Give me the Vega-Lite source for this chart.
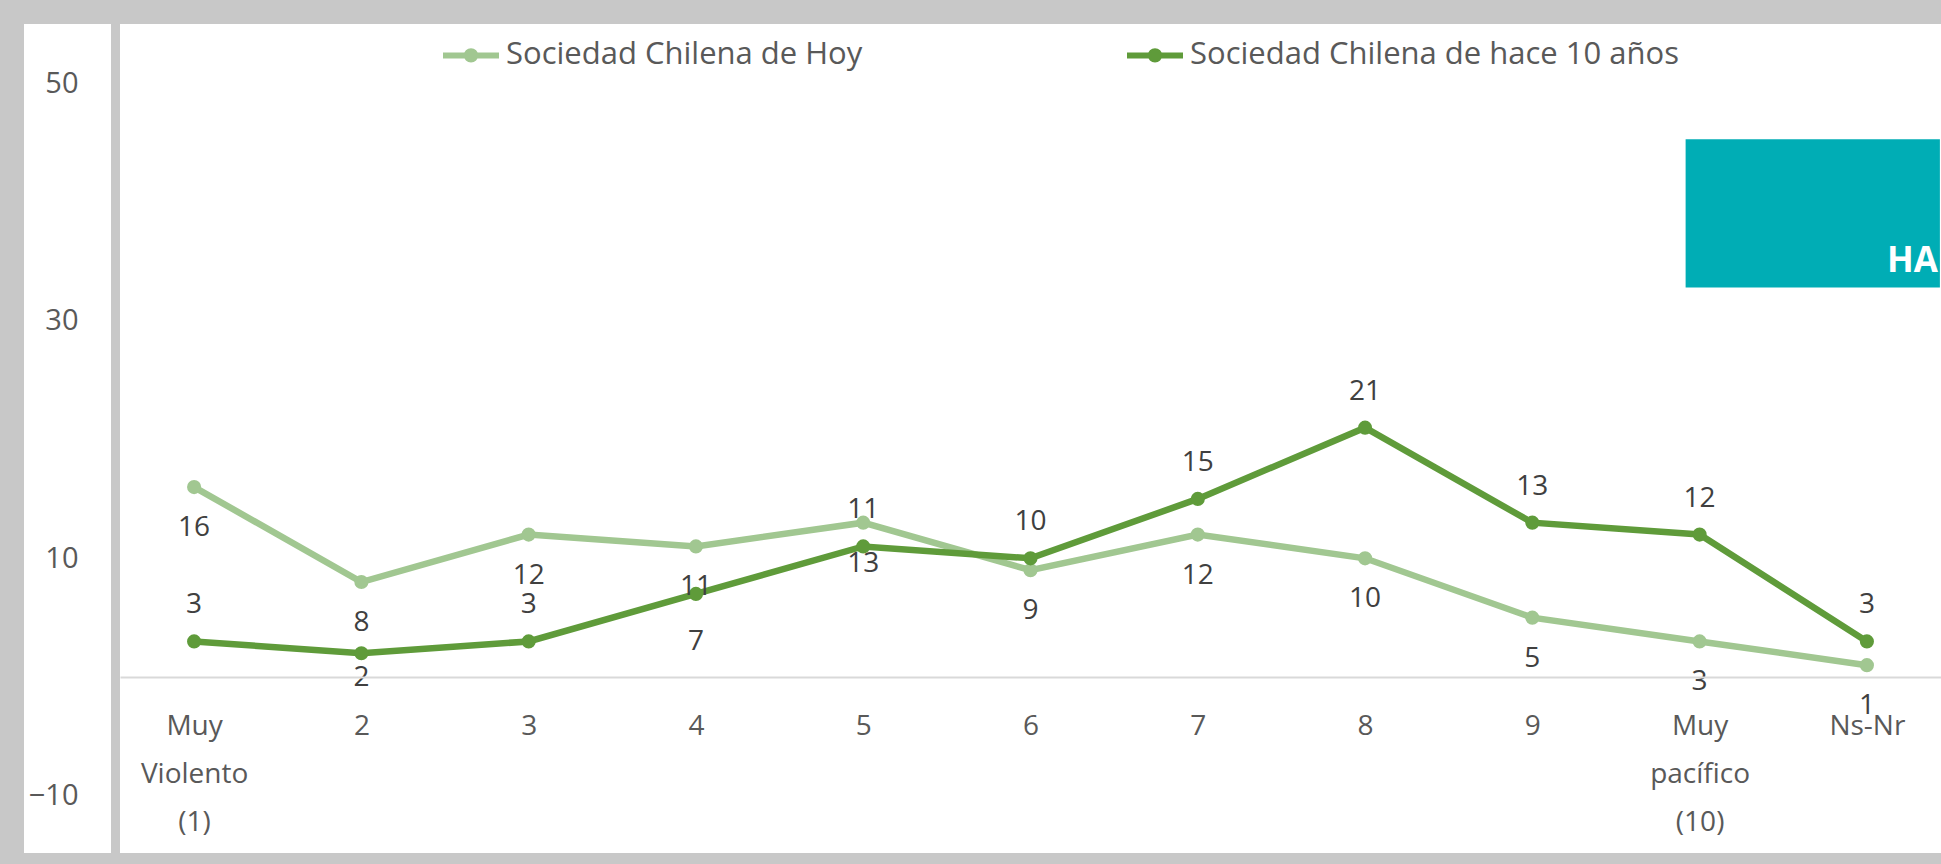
{
  "$schema": "https://vega.github.io/schema/vega-lite/v6.json",
  "autosize": {"type": "pad"},
  "background": "#C8C8C8",
  "padding": {"left": 24, "top": 24, "right": 0, "bottom": 11},
  "config": {
    "view": {"fill": "white", "stroke": null},
    "font": "Open Sans",
    "concat": {"spacing": 9}
  },
  "datasets": {
    "d": [
      {"cat": "Muy Violento (1)", "serie": "Sociedad Chilena de Hoy", "valor": 16},
      {"cat": "2", "serie": "Sociedad Chilena de Hoy", "valor": 8},
      {"cat": "3", "serie": "Sociedad Chilena de Hoy", "valor": 12},
      {"cat": "4", "serie": "Sociedad Chilena de Hoy", "valor": 11},
      {"cat": "5", "serie": "Sociedad Chilena de Hoy", "valor": 13},
      {"cat": "6", "serie": "Sociedad Chilena de Hoy", "valor": 9},
      {"cat": "7", "serie": "Sociedad Chilena de Hoy", "valor": 12},
      {"cat": "8", "serie": "Sociedad Chilena de Hoy", "valor": 10},
      {"cat": "9", "serie": "Sociedad Chilena de Hoy", "valor": 5},
      {"cat": "Muy pacífico (10)", "serie": "Sociedad Chilena de Hoy", "valor": 3},
      {"cat": "Ns-Nr", "serie": "Sociedad Chilena de Hoy", "valor": 1},
      {"cat": "Muy Violento (1)", "serie": "Sociedad Chilena de hace 10 años", "valor": 3},
      {"cat": "2", "serie": "Sociedad Chilena de hace 10 años", "valor": 2},
      {"cat": "3", "serie": "Sociedad Chilena de hace 10 años", "valor": 3},
      {"cat": "4", "serie": "Sociedad Chilena de hace 10 años", "valor": 7},
      {"cat": "5", "serie": "Sociedad Chilena de hace 10 años", "valor": 11},
      {"cat": "6", "serie": "Sociedad Chilena de hace 10 años", "valor": 10},
      {"cat": "7", "serie": "Sociedad Chilena de hace 10 años", "valor": 15},
      {"cat": "8", "serie": "Sociedad Chilena de hace 10 años", "valor": 21},
      {"cat": "9", "serie": "Sociedad Chilena de hace 10 años", "valor": 13},
      {"cat": "Muy pacífico (10)", "serie": "Sociedad Chilena de hace 10 años", "valor": 12},
      {"cat": "Ns-Nr", "serie": "Sociedad Chilena de hace 10 años", "valor": 3}
    ],
    "nota": [{"t": "HA"}]
  },
  "hconcat": [
    {
      "width": 87,
      "height": 829,
      "data": {"name": "d"},
      "mark": {"type": "point", "opacity": 0},
      "encoding": {
        "y": {
          "field": "valor", "type": "quantitative",
          "scale": {"domain": [-14.82, 55], "nice": false, "zero": false},
          "axis": {"orient": "left", "offset": -54, "values": [-10, 10, 30, 50], "domain": false, "ticks": false, "tickSize": 0, "grid": false, "labelPadding": 0, "labelFontSize": 29, "labelColor": "#595959", "title": null}
        }
      }
    },
    {
      "width": 1821,
      "height": 829,
      "layer": [
        {
          "data": {"name": "nota"},
          "mark": {"type": "rect", "fill": "#00ADB5", "xOffset": -14, "x2Offset": 73},
          "encoding": {
            "x": {"datum": "Muy pacífico (10)", "type": "ordinal"},
            "x2": {"datum": "Ns-Nr"},
            "y": {"datum": 45.3, "type": "quantitative"},
            "y2": {"datum": 32.8}
          }
        },
        {
          "data": {"name": "nota"},
          "mark": {"type": "text", "align": "left", "dx": 20, "fontSize": 35, "fontWeight": "bold", "fill": "white"},
          "encoding": {
            "x": {"datum": "Ns-Nr", "type": "ordinal"},
            "y": {"datum": 35.0, "type": "quantitative"},
            "text": {"field": "t"}
          }
        },
        {
          "data": {"name": "d"},
          "mark": {"type": "line", "strokeWidth": 6.5, "point": {"size": 200, "filled": true}},
          "encoding": {
            "x": {"field": "cat", "type": "ordinal"},
            "y": {"field": "valor", "type": "quantitative"},
            "color": {
              "field": "serie", "type": "nominal",
              "scale": {"domain": ["Sociedad Chilena de Hoy", "Sociedad Chilena de hace 10 años"], "range": ["#A1C791", "#5F9B3A"]},
              "legend": {
                "orient": "none", "legendX": 416, "legendY": 0, "direction": "horizontal", "title": null,
                "symbolType": "M-1,0H1M-0.15,0A0.15,0.15 0 1,1 0.15,0A0.15,0.15 0 1,1 -0.15,0Z",
                "symbolSize": 3136, "symbolStrokeWidth": 6, "labelLimit": 800,
                "labelFontSize": 31, "labelColor": "#595959", "labelOffset": 4, "columnPadding": 252
              }
            }
          }
        },
        {
          "data": {"name": "d"},
          "transform": [{"filter": "datum.serie == 'Sociedad Chilena de Hoy'"}],
          "mark": {"type": "text", "dy": 41, "fontSize": 28, "color": "#404040"},
          "encoding": {"x": {"field": "cat", "type": "ordinal"}, "y": {"field": "valor", "type": "quantitative"}, "text": {"field": "valor", "type": "quantitative"}}
        },
        {
          "data": {"name": "d"},
          "transform": [{"filter": "datum.serie == 'Sociedad Chilena de hace 10 años' && datum.cat != '2' && datum.cat != '4'"}],
          "mark": {"type": "text", "dy": -36, "fontSize": 28, "color": "#404040"},
          "encoding": {"x": {"field": "cat", "type": "ordinal"}, "y": {"field": "valor", "type": "quantitative"}, "text": {"field": "valor", "type": "quantitative"}}
        },
        {
          "data": {"name": "d"},
          "transform": [{"filter": "datum.serie == 'Sociedad Chilena de hace 10 años' && datum.cat == '2'"}],
          "mark": {"type": "text", "dy": 25, "fontSize": 28, "color": "#404040"},
          "encoding": {"x": {"field": "cat", "type": "ordinal"}, "y": {"field": "valor", "type": "quantitative"}, "text": {"field": "valor", "type": "quantitative"}}
        },
        {
          "data": {"name": "d"},
          "transform": [{"filter": "datum.serie == 'Sociedad Chilena de hace 10 años' && datum.cat == '4'"}],
          "mark": {"type": "text", "dy": 48, "fontSize": 28, "color": "#404040"},
          "encoding": {"x": {"field": "cat", "type": "ordinal"}, "y": {"field": "valor", "type": "quantitative"}, "text": {"field": "valor", "type": "quantitative"}}
        }
      ],
      "encoding": {
        "x": {
          "scale": {"type": "point", "padding": 0.443, "domain": ["Muy Violento (1)", "2", "3", "4", "5", "6", "7", "8", "9", "Muy pacífico (10)", "Ns-Nr"]},
          "axis": {"orient": "bottom", "offset": -176, "domainColor": "#D9D9D9", "domainWidth": 2, "ticks": false, "labelAngle": 0, "labelFontSize": 28, "labelColor": "#595959", "labelPadding": 35, "labelLineHeight": 48, "labelBaseline": "top", "labelExpr": "split(datum.label, ' ')", "title": null}
        },
        "y": {
          "scale": {"domain": [-14.82, 55], "nice": false, "zero": false},
          "axis": null
        }
      }
    }
  ]
}
